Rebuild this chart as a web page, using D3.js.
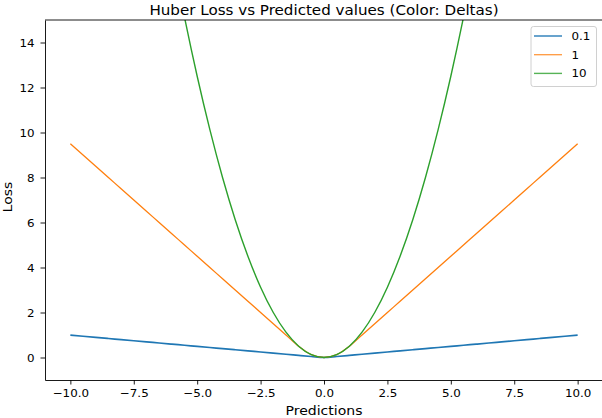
<!DOCTYPE html>
<html lang="en">
<head>
    <meta charset="UTF-8">
    <title>Huber Loss vs Predicted values</title>
    <script src="https://d3js.org/d3.v7.min.js"></script>
    <style>
        body { margin: 0; background: white; }
        text { font-family: "DejaVu Sans", sans-serif; fill: #000; }
    </style>
</head>
<body>
    <svg id="chart"></svg>

    <script>
        // predictions (x) and loss values, one array per delta
        const predictions = [-10, -9.5, -9, -8.5, -8, -7.5, -7, -6.5, -6, -5.5, -5, -4.5, -4, -3.5, -3, -2.5, -2, -1.5, -1, -0.5,
            0, 0.5, 1, 1.5, 2, 2.5, 3, 3.5, 4, 4.5, 5, 5.5, 6, 6.5, 7, 7.5, 8, 8.5, 9, 9.5, 10];
        const lossDelta01 = [0.995, 0.945, 0.895, 0.845, 0.795, 0.745, 0.695, 0.645, 0.595, 0.545, 0.495, 0.445, 0.395, 0.345, 0.295, 0.245, 0.195, 0.145, 0.095, 0.045,
            0, 0.045, 0.095, 0.145, 0.195, 0.245, 0.295, 0.345, 0.395, 0.445, 0.495, 0.545, 0.595, 0.645, 0.695, 0.745, 0.795, 0.845, 0.895, 0.945, 0.995];
        const lossDelta1 = [9.5, 9, 8.5, 8, 7.5, 7, 6.5, 6, 5.5, 5, 4.5, 4, 3.5, 3, 2.5, 2, 1.5, 1, 0.5, 0.125,
            0, 0.125, 0.5, 1, 1.5, 2, 2.5, 3, 3.5, 4, 4.5, 5, 5.5, 6, 6.5, 7, 7.5, 8, 8.5, 9, 9.5];
        const lossDelta10 = [50, 45.125, 40.5, 36.125, 32, 28.125, 24.5, 21.125, 18, 15.125, 12.5, 10.125, 8, 6.125, 4.5, 3.125, 2, 1.125, 0.5, 0.125,
            0, 0.125, 0.5, 1.125, 2, 3.125, 4.5, 6.125, 8, 10.125, 12.5, 15.125, 18, 21.125, 24.5, 28.125, 32, 36.125, 40.5, 45.125, 50];
        const deltas = ["0.1", "1", "10"];
        const xTicks = [-10, -7.5, -5, -2.5, 0, 2.5, 5, 7.5, 10];
        const yTicks = [0, 2, 4, 6, 8, 10, 12, 14];

        const width = 602;
        const height = 418;
        const margin = {top: 20, right: -1, bottom: 38, left: 45};
        const stretch = 1.08; // the picture's text is a little wider than it is tall

        const svg = d3.select("#chart")
            .attr("width", width)
            .attr("height", height);

        const x = d3.scaleLinear()
            .domain([-11, 11])
            .range([margin.left, width - margin.right]);

        const y = d3.scaleLinear()
            .domain([-1, 15])
            .range([height - margin.bottom, margin.top]);

        const series = [
            {name: deltas[0], values: lossDelta01, color: "#1f77b4", width: 1.7},
            {name: deltas[1], values: lossDelta1, color: "#ff7f0e", width: 1.3},
            {name: deltas[2], values: lossDelta10, color: "#2ca02c", width: 1.4}
        ];

        svg.append("clipPath")
            .attr("id", "plot-clip")
            .append("rect")
            .attr("x", x.range()[0])
            .attr("y", y.range()[1])
            .attr("width", x.range()[1] - x.range()[0])
            .attr("height", y.range()[0] - y.range()[1]);

        const line = d3.line()
            .x((d, i) => x(predictions[i]))
            .y(d => y(d))
            .curve(d3.curveMonotoneX);

        svg.append("g")
            .attr("clip-path", "url(#plot-clip)")
            .selectAll("path")
            .data(series)
            .enter()
            .append("path")
            .attr("d", d => line(d.values))
            .attr("fill", "none")
            .attr("stroke", d => d.color)
            .attr("stroke-width", d => d.width);

        // axes
        const xAxis = svg.append("g")
            .attr("transform", `translate(0, ${y.range()[0]})`)
            .call(d3.axisBottom(x).tickValues(xTicks).tickSizeOuter(0).tickSizeInner(4.5).tickPadding(5));

        const yAxis = svg.append("g")
            .attr("transform", `translate(${x.range()[0]}, 0)`)
            .call(d3.axisLeft(y).tickValues(yTicks).tickSizeOuter(0).tickSizeInner(4.5).tickPadding(6));

        [xAxis, yAxis].forEach(g => {
            g.selectAll("text").style("font-size", "11px").attr("fill", "#000");
            g.selectAll("line").attr("stroke", "#000").attr("stroke-width", 0.9);
            g.select(".domain").attr("stroke", "#000").attr("stroke-width", 0.9);
        });
        xAxis.selectAll("text")
            .text(d => d3.format(".1f")(d).replace("-", "\u2212"))
            .attr("transform", `scale(${stretch}, 1)`);
        yAxis.selectAll("text")
            .text(d => String(d))
            .attr("x", -10.5 / stretch)
            .attr("transform", `scale(${stretch}, 1)`);

        // top and right spines
        svg.append("line")
            .attr("x1", x.range()[0]).attr("x2", x.range()[1])
            .attr("y1", y.range()[1]).attr("y2", y.range()[1])
            .attr("stroke", "#000").attr("stroke-width", 0.9);
        svg.append("line")
            .attr("x1", x.range()[1]).attr("x2", x.range()[1])
            .attr("y1", y.range()[1]).attr("y2", y.range()[0])
            .attr("stroke", "#000").attr("stroke-width", 0.9);

        // title and labels
        const midX = (x.range()[0] + x.range()[1]) / 2;
        svg.append("text")
            .attr("transform", `translate(${midX}, 15) scale(${stretch}, 1)`)
            .attr("text-anchor", "middle")
            .style("font-size", "14px")
            .text("Huber Loss vs Predicted values (Color: Deltas)");

        svg.append("text")
            .attr("transform", `translate(${midX}, 414.5) scale(${stretch}, 1)`)
            .attr("text-anchor", "middle")
            .style("font-size", "13px")
            .text("Predictions");

        svg.append("text")
            .attr("transform", `translate(11.5, ${(y.range()[0] + y.range()[1]) / 2 - 3}) rotate(-90) scale(${stretch}, 1)`)
            .attr("text-anchor", "middle")
            .style("font-size", "13px")
            .text("Loss");

        // legend
        const legend = svg.append("g").attr("transform", "translate(531, 26.5)");
        legend.append("rect")
            .attr("width", 65.5)
            .attr("height", 60)
            .attr("rx", 2.5)
            .attr("fill", "white")
            .attr("fill-opacity", 0.8)
            .attr("stroke", "#d0d0d0");

        const item = legend.selectAll("g.item")
            .data(series)
            .enter()
            .append("g")
            .attr("transform", (d, i) => `translate(0, ${9.5 + i * 18.7})`);
        item.append("line")
            .attr("x1", 3).attr("x2", 31)
            .attr("stroke", d => d.color)
            .attr("stroke-width", d => d.width)
            .attr("stroke-opacity", 0.8);
        item.append("text")
            .attr("transform", `translate(40.5, 0) scale(${stretch}, 1)`)
            .attr("dy", "0.36em")
            .style("font-size", "11px")
            .text(d => d.name);
    </script>
</body>
</html>
